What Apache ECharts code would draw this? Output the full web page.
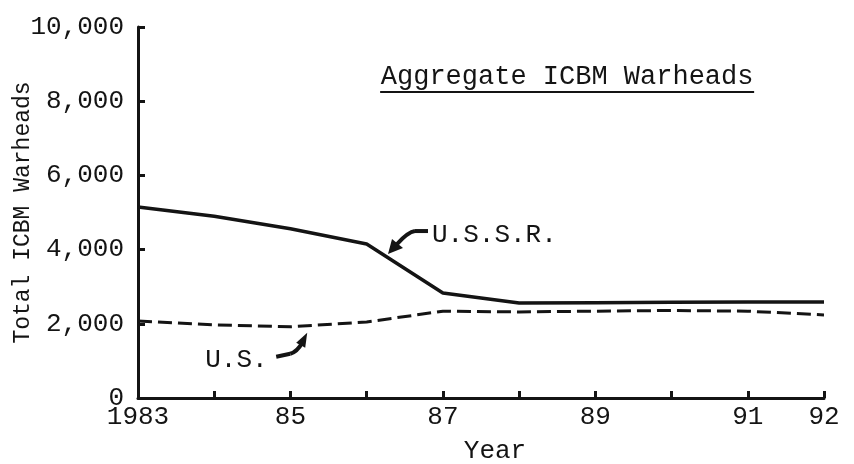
<!DOCTYPE html>
<html><head><meta charset="utf-8">
<script src="https://cdn.jsdelivr.net/npm/echarts@6/dist/echarts.min.js"></script>
<style>html,body{margin:0;padding:0;background:#fff}#c{width:854px;height:464px}</style>
</head><body><div id="c"></div>
<script>
const years = [1983,1984,1985,1986,1987,1988,1989,1990,1991,1992];
const ussr = [5150,4900,4560,4150,2830,2560,2570,2580,2590,2590];
const us = [2075,1970,1920,2050,2340,2320,2340,2360,2340,2240];
const xTickLabels = {1983:'1983',1985:'85',1987:'87',1989:'89',1991:'91',1992:'92'};
const yTicks = [0,2000,4000,6000,8000,10000];
const FONT = '"Liberation Mono", "DejaVu Sans Mono", monospace';
const INK = '#141414';

const chart = echarts.init(document.getElementById('c'));
chart.setOption({
  backgroundColor:'#fff',
  animation:false,
  grid:{left:138,right:30,top:27,bottom:66,containLabel:false,outerBoundsMode:'none'},
  xAxis:{type:'value',min:1983,max:1992,interval:1,
    name:'Year',nameLocation:'middle',nameGap:40,nameMoveOverlap:false,
    nameTextStyle:{fontFamily:FONT,fontSize:26,color:INK,padding:[0,0,0,28]},
    axisLine:{lineStyle:{color:INK,width:3}},
    axisTick:{inside:true,length:7,lineStyle:{color:INK,width:3}},
    axisLabel:{margin:6,fontFamily:FONT,fontSize:26,color:INK,
      formatter:v=>xTickLabels[v]||''},
    splitLine:{show:false}},
  yAxis:{type:'value',min:0,max:10000,interval:2000,
    name:'Total ICBM Warheads',nameLocation:'middle',nameGap:104,nameMoveOverlap:false,
    nameTextStyle:{fontFamily:FONT,fontSize:23,color:INK},
    axisLine:{show:true,lineStyle:{color:INK,width:3}},
    axisTick:{show:true,inside:true,length:7,lineStyle:{color:INK,width:3}},
    axisLabel:{margin:14,fontFamily:FONT,fontSize:26,color:INK,
      formatter:v=>v.toLocaleString('en-US')},
    splitLine:{show:false}},
  series:[
    {name:'U.S.S.R.',type:'line',data:years.map((y,i)=>[y,ussr[i]]),
      showSymbol:false,lineStyle:{color:INK,width:3.5}},
    {name:'U.S.',type:'line',data:years.map((y,i)=>[y,us[i]]),
      showSymbol:false,lineStyle:{color:INK,width:3,type:[14,6]}}
  ]
});

// annotations positioned in data coordinates
const P = (x,y)=>chart.convertToPixel({gridIndex:0},[x,y]);
const t = P(1986.28,3880);
const u = P(1985.22,1760);
const ta = P(1988.63,8650);
chart.setOption({graphic:[
  {type:'text',x:ta[0],y:ta[1],
    style:{text:'Aggregate ICBM Warheads',font:'27px '+FONT,fill:INK,align:'center',verticalAlign:'middle'}},
  {type:'line',shape:{x1:ta[0]-187,y1:ta[1]+15,x2:ta[0]+187,y2:ta[1]+15},
    style:{stroke:INK,lineWidth:2}},
  {type:'text',x:t[0]+44,y:t[1]-19,
    style:{text:'U.S.S.R.',font:'26px '+FONT,fill:INK,align:'left',verticalAlign:'middle'}},
  {type:'line',shape:{x1:t[0]+40,y1:t[1]-23,x2:t[0]+27,y2:t[1]-23},style:{stroke:INK,lineWidth:4}},
  {type:'bezierCurve',shape:{x1:t[0]+27,y1:t[1]-23,cpx1:t[0]+20,cpy1:t[1]-22,x2:t[0]+9,y2:t[1]-10},
    style:{stroke:INK,lineWidth:4,fill:null}},
  {type:'polygon',shape:{points:[[t[0],t[1]],[t[0]+4,t[1]-15],[t[0]+15,t[1]-6]]},style:{fill:INK}},
  {type:'text',x:u[0]-102,y:u[1]+27,
    style:{text:'U.S.',font:'26px '+FONT,fill:INK,align:'left',verticalAlign:'middle'}},
  {type:'line',shape:{x1:u[0]-31,y1:u[1]+24,x2:u[0]-17,y2:u[1]+21},style:{stroke:INK,lineWidth:4}},
  {type:'bezierCurve',shape:{x1:u[0]-17,y1:u[1]+21,cpx1:u[0]-10,cpy1:u[1]+19,x2:u[0]-5,y2:u[1]+10},
    style:{stroke:INK,lineWidth:4,fill:null}},
  {type:'polygon',shape:{points:[[u[0],u[1]],[u[0]-11,u[1]+10],[u[0]-2,u[1]+15]]},style:{fill:INK}}
]});
</script></body></html>
